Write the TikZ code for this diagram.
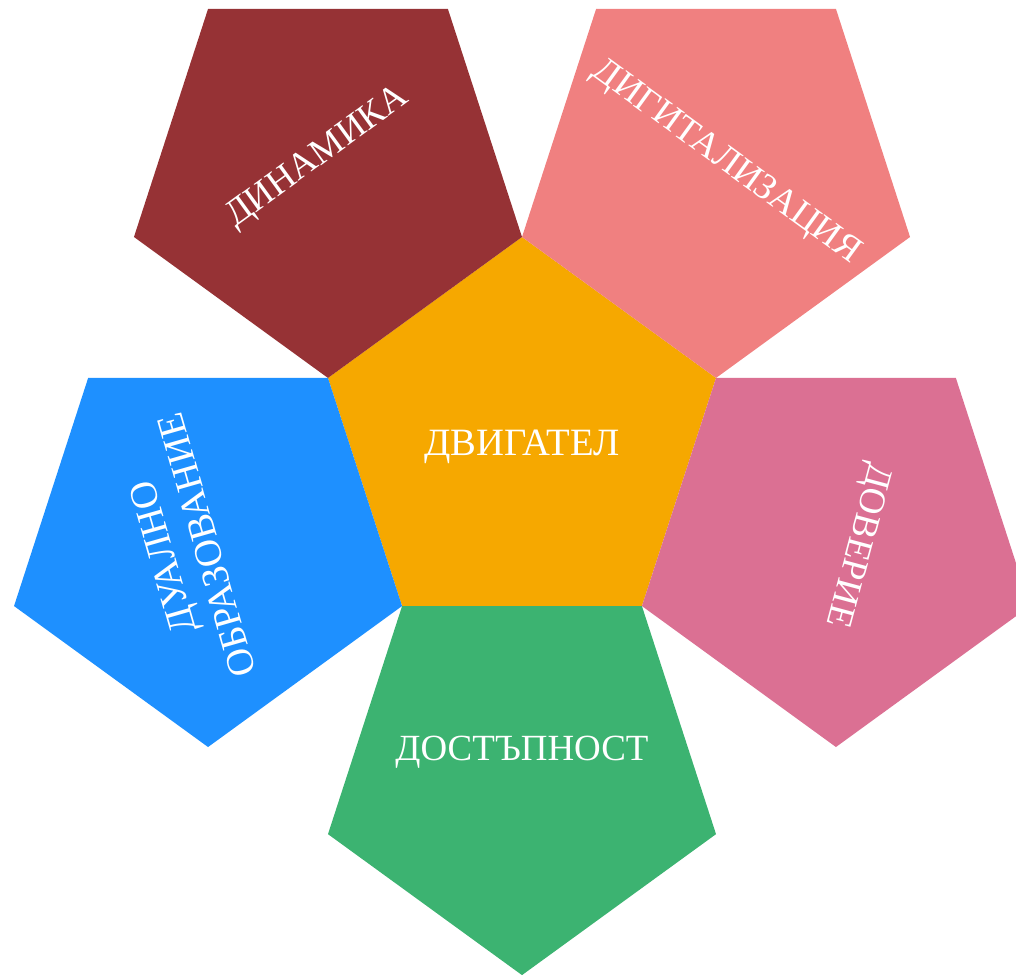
\documentclass[tikz,border=0pt]{standalone}
\usepackage{fontspec}
\setmainfont{Liberation Serif}
\usepackage{tikz}
\usetikzlibrary{shapes.geometric}

\definecolor{motor}{HTML}{F6A800}
\definecolor{dynred}{HTML}{963235}
\definecolor{digsalmon}{HTML}{F08080}
\definecolor{trustpink}{HTML}{DB7093}
\definecolor{accgreen}{HTML}{3CB371}
\definecolor{dualblue}{HTML}{1E90FF}

\begin{document}
\begin{tikzpicture}
  \tikzstyle{petal} = [regular polygon, regular polygon sides=5, minimum size=8.16cm, inner sep=0pt, outer sep=0pt]
  \tikzstyle{word} = [text=white, font=\fontsize{21}{26}\selectfont, align=center]
  \tikzstyle{bigword} = [word, font=\fontsize{22}{26}\selectfont]

  \useasboundingbox (0,0) rectangle (20.32,-19.54);
  \clip (0,0) rectangle (20.32,-19.54);

  % centre and the five petals, each mirrored across one edge
  \node (core) [petal, fill=motor] at (10.44,-8.82) {};
  \node (dyn) [petal, fill=dynred, rotate=36] at ([shift={(126:6.602)}]core.center) {};
  \node (dig) [petal, fill=digsalmon, rotate=-36] at ([shift={(54:6.602)}]core.center) {};
  \node (trust) [petal, fill=trustpink, rotate=-108] at ([shift={(-18:6.602)}]core.center) {};
  \node (acc) [petal, fill=accgreen, rotate=180] at ([shift={(-90:6.602)}]core.center) {};
  \node (dual) [petal, fill=dualblue, rotate=108] at ([shift={(198:6.602)}]core.center) {};

  \node (coreT) [bigword] at ([shift={(-90:0.12)}]core.center) {ДВИГАТЕЛ};
  \node (dynT) [word, rotate=36] at ([shift={(122:0.38)}]dyn.center) {ДИНАМИКА};
  \node (digT) [word, rotate=-36] at ([shift={(48:0.3)}]dig.center) {ДИГИТАЛИЗАЦИЯ};
  \node (trustT) [word, rotate=-105] at ([shift={(-5:0.42)}]trust.center) {ДОВЕРИЕ};
  \node (accT) [word] at ([shift={(90:0.38)}]acc.center) {ДОСТЪПНОСТ};
  \node (dualT) [bigword, rotate=106] at ([shift={(200:0.5)}]dual.center) {ДУАЛНО\\ОБРАЗОВАНИЕ};
\end{tikzpicture}
\end{document}
